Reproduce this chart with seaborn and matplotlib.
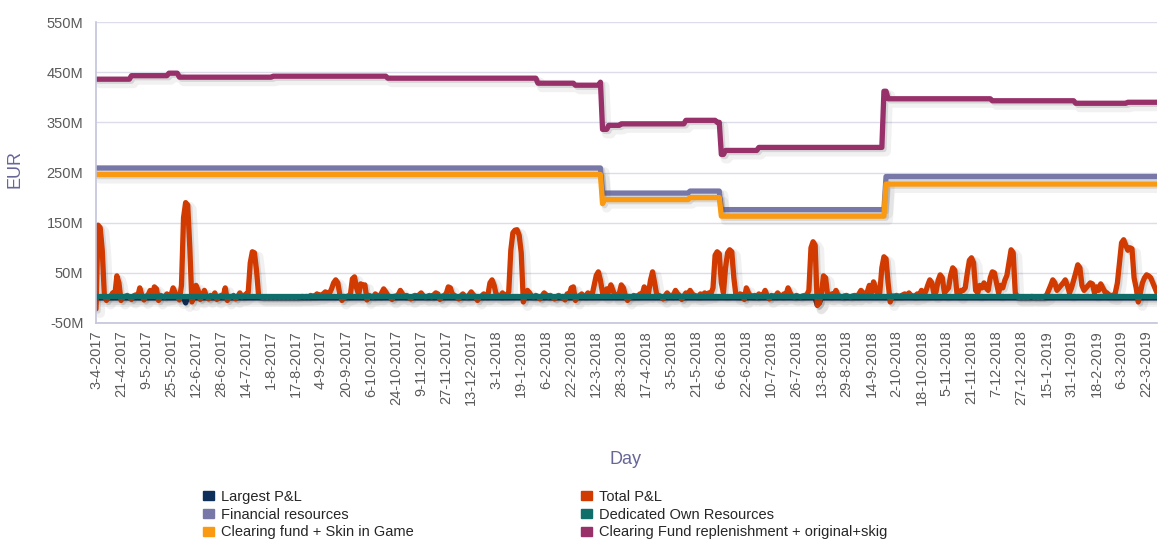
import matplotlib
matplotlib.use("Agg")
import matplotlib.pyplot as plt
import matplotlib.patheffects as pe
from matplotlib.patches import Patch
import numpy as np
import pandas as pd
import seaborn as sns

# business-day calendar (weekends + these closing days are skipped)
HOLIDAYS = ["2017-04-14", "2017-04-17", "2017-12-25", "2017-12-26", "2018-01-01",
            "2018-03-30", "2018-04-02", "2018-12-25", "2018-12-26", "2019-01-01"]
FIRST_DAY = "2017-04-03"
LAST_DAY = "2019-03-29"

# Total P&L in M EUR, one row per 12 business days (row label = first day)
total_pl_rows = [
    [-22, 145, 140, 95, 5, -5, 2, 3, 10, 4, 44, 30],        # 3-4-2017
    [-5, 2, 3, 5, 2, -3, 4, 6, 3, 20, 5, -4],               # 21-4-2017
    [3, 6, 15, 4, 22, 18, -5, 5, 3, 2, 8, 4],               # 9-5-2017
    [6, 20, 10, 3, -4, 25, 160, 190, 185, 100, -8, 6],      # 25-5-2017
    [25, 15, -3, 4, 15, 3, -2, 5, 2, 10, -3, 2],            # 12-6-2017
    [5, 2, 20, -5, 3, 2, 5, -2, 3, 10, 2, 4],               # 28-6-2017
    [8, 10, 70, 92, 90, 55, 5, 2, 1, 2, 1, 2],              # 14-7-2017
    [1, 2, 1, 2, 1, 2, 1, 2, 1, 2, 1, 2],                   # 1-8-2017
    [1, 2, 2, 3, 2, 3, 2, 5, 3, 4, 8, 5],                   # 17-8-2017
    [6, 8, 12, 10, 9, 18, 30, 36, 30, 6, -5, 3],            # 4-9-2017
    [2, 4, 5, 38, 42, 20, 6, 28, 25, 26, -4, 5],            # 20-9-2017
    [3, 2, 8, 4, 3, 10, 18, 12, 5, 2, -3, 3],               # 6-10-2017
    [4, 6, 15, 8, 3, 5, 2, -2, 3, 5, 4, 6],                 # 24-10-2017
    [10, 4, 2, 3, 5, 2, 6, 10, 8, -3, 3, 5],                # 9-11-2017
    [8, 22, 20, 6, 5, 2, -2, 4, 8, 3, 2, 6],                # 27-11-2017
    [12, 6, 3, -5, 2, 4, 8, 3, 6, 30, 36, 25],              # 13-12-2017
    [6, 5, 3, 10, 4, 5, 12, 95, 130, 135, 136, 125],        # 3-1-2018
    [90, -8, 5, 15, 10, 3, 2, 5, 3, -2, 4, 10],             # 19-1-2018
    [6, 2, 5, 2, -2, 3, 5, 2, 3, -4, 8, 6],                 # 6-2-2018
    [20, 22, -5, 3, 4, 8, 3, 5, 10, 4, 6, 25],              # 22-2-2018
    [45, 52, 35, 10, 6, 18, 12, 26, 15, 4, 5, 8],           # 12-3-2018
    [26, 20, 4, -5, 3, 2, 5, 3, 4, 8, 6, 22],               # 28-3-2018
    [15, 8, 35, 52, 30, 6, 5, 3, -2, 4, 10, 5],             # 17-4-2018
    [4, 6, 15, 8, 5, -3, 4, 10, 6, 15, 8, 5],               # 3-5-2018
    [4, 3, 8, 5, 10, 6, 10, 8, 20, 85, 92, 88],             # 21-5-2018
    [30, 10, 60, 90, 96, 92, 40, 5, 3, 8, 6, -3],           # 6-6-2018
    [20, 10, 4, 3, 5, 2, 8, 4, 6, 15, 4, -2],               # 22-6-2018
    [5, 3, 4, 10, 5, 3, 8, 6, 20, 10, 3, 2],                # 10-7-2018
    [5, 3, 2, 4, 5, 6, 15, 100, 112, 105, -15, -10],        # 26-7-2018
    [8, 44, 40, 5, 3, 8, 6, 15, 5, 3, 2, 4],                # 13-8-2018
    [5, 3, 2, 4, 5, 3, 8, 15, 10, 6, 12, 25],               # 29-8-2018
    [10, 32, 20, 6, 10, 60, 82, 78, 30, -8, 4, 3],          # 14-9-2018
    [5, 3, 4, 6, 8, 5, 10, 5, 3, 4, 8, 6],                  # 2-10-2018
    [15, 10, 12, 25, 36, 30, 8, 12, 35, 46, 40, 10],        # 18-10-2018
    [15, 20, 45, 60, 55, 10, 6, 15, 15, 20, 50, 75],        # 5-11-2018
    [80, 70, 15, 10, 25, 20, 30, 20, 15, 40, 52, 50],       # 21-11-2018
    [30, 10, 25, 20, 35, 45, 70, 96, 90, 10, 2, 1],         # 7-12-2018
    [2, 1, 2, 1, 2, 3, 1, 2, 1, 2, 1, 3],                   # 27-12-2018
    [5, 15, 25, 36, 30, 15, 20, 25, 30, 36, 25, 10],        # 15-1-2019
    [20, 35, 50, 66, 60, 25, 15, 20, 25, 30, 28, 10],       # 31-1-2019
    [22, 15, 28, 20, 12, 10, 6, 5, 4, 10, 30, 70],          # 18-2-2019
    [110, 116, 105, 95, 100, 98, 40, 20, -8, 10, 30, 40],   # 6-3-2019
    [46, 44, 40, 30, 20, 10],                               # 22-3-2019
]

# step series: (first day of new level, level in M EUR)
largest_pl_steps = [("2017-04-03", 0), ("2017-06-05", -10), ("2017-06-06", 0),
                    ("2018-08-09", -14), ("2018-08-10", -10), ("2018-08-13", 0)]
financial_steps = [("2017-04-03", 259), ("2018-03-15", 209), ("2018-05-16", 213),
                   ("2018-06-06", 176), ("2018-09-25", 242)]
dedicated_steps = [("2017-04-03", 4)]
clearing_steps = [("2017-04-03", 246), ("2018-03-15", 188), ("2018-03-16", 196),
                  ("2018-05-16", 200), ("2018-06-06", 163), ("2018-09-25", 227)]
replenish_steps = [("2017-04-03", 436), ("2017-04-28", 443), ("2017-05-24", 448),
                   ("2017-05-31", 440), ("2017-08-02", 442), ("2017-10-18", 438),
                   ("2018-01-31", 428), ("2018-02-26", 424), ("2018-03-14", 430),
                   ("2018-03-15", 336), ("2018-03-20", 344), ("2018-03-28", 347),
                   ("2018-05-14", 354), ("2018-06-04", 350), ("2018-06-06", 286),
                   ("2018-06-08", 294), ("2018-07-02", 300), ("2018-09-24", 412),
                   ("2018-09-26", 397), ("2018-12-05", 393), ("2019-02-04", 388),
                   ("2019-03-11", 390)]

SERIES = ["Largest P&L", "Total P&L", "Financial resources", "Dedicated Own Resources",
          "Clearing fund + Skin in Game", "Clearing Fund replenishment + original+skig"]
COLORS = ["#0e2f5a", "#d13a00", "#7878a8", "#0f6e6a", "#f99a12", "#98306a"]
Y_TICKS = [-50, 50, 150, 250, 350, 450, 550]

sns.set_theme(style="white")
plt.rcParams["font.family"] = ["Liberation Sans", "DejaVu Sans"]

days = pd.bdate_range(FIRST_DAY, LAST_DAY)
days = days[~days.isin(pd.to_datetime(HOLIDAYS))]


def expand(points):
    s = pd.Series([v for _, v in points], index=pd.to_datetime([d for d, _ in points]))
    return s.reindex(days, method="ffill").to_numpy()


values = {
    "Largest P&L": expand(largest_pl_steps),
    "Total P&L": np.concatenate([np.array(r, float) for r in total_pl_rows]),
    "Financial resources": expand(financial_steps),
    "Dedicated Own Resources": expand(dedicated_steps),
    "Clearing fund + Skin in Game": expand(clearing_steps),
    "Clearing Fund replenishment + original+skig": expand(replenish_steps),
}
frames = [pd.DataFrame({"day": np.arange(len(days)), "value": v, "series": k})
          for k, v in values.items()]
df = pd.concat(frames, ignore_index=True)

fig = plt.figure(figsize=(11.59, 5.43), dpi=100)
ax = fig.add_axes([96 / 1159, 1 - 323 / 543, 1061 / 1159, 301 / 543])

sns.lineplot(data=df, x="day", y="value", hue="series", hue_order=SERIES,
             palette=dict(zip(SERIES, COLORS)), estimator=None, sort=False,
             linewidth=3.8, legend=False, ax=ax,
             solid_joinstyle="round", solid_capstyle="round")
for line in ax.lines:
    line.set_path_effects([
        pe.SimpleLineShadow(offset=(3, -3), shadow_color="k", alpha=0.06, linewidth=7),
        pe.SimpleLineShadow(offset=(1.5, -1.5), shadow_color="k", alpha=0.12),
        pe.Normal(),
    ])

ax.set_xlim(0, len(days) - 1)
ax.set_ylim(-50, 550)
ax.set_yticks(Y_TICKS)
ax.set_yticklabels([f"{v}M" for v in Y_TICKS])
tick_pos = np.arange(0, len(days), 12)
ax.set_xticks(tick_pos)
ax.set_xticklabels([f"{days[i].day}-{days[i].month}-{days[i].year}" for i in tick_pos],
                   rotation=90)
ax.tick_params(axis="x", length=0, pad=5, labelsize=10.5, colors="#5a5a5a")
ax.tick_params(axis="y", length=0, pad=9, labelsize=10.5, colors="#5a5a5a")
ax.grid(axis="y", color="#dcdcea", linewidth=1)
ax.set_axisbelow(True)
for side in ["top", "right"]:
    ax.spines[side].set_visible(False)
for side in ["left", "bottom"]:
    ax.spines[side].set_color("#c4c4dc")
    ax.spines[side].set_linewidth(1.2)

ax.set_xlabel("Day", fontsize=13, color="#666699")
ax.xaxis.set_label_coords(0.499, -0.425)
ax.set_ylabel("EUR", fontsize=13, color="#666699")
ax.yaxis.set_label_coords(-0.068, 0.51)

handles = [Patch(color=c, label=s) for s, c in zip(SERIES, COLORS)]
for col, x0 in enumerate([203 / 1159, 581 / 1159]):
    fig.legend(handles=handles[col::2], loc="upper left", bbox_to_anchor=(x0, 1 - 490 / 543),
               frameon=False, fontsize=10.5, handlelength=0.75, handleheight=0.55,
               handletextpad=0.5, labelspacing=0.25, borderpad=0, borderaxespad=0)

fig.savefig("out.png", dpi=100)
